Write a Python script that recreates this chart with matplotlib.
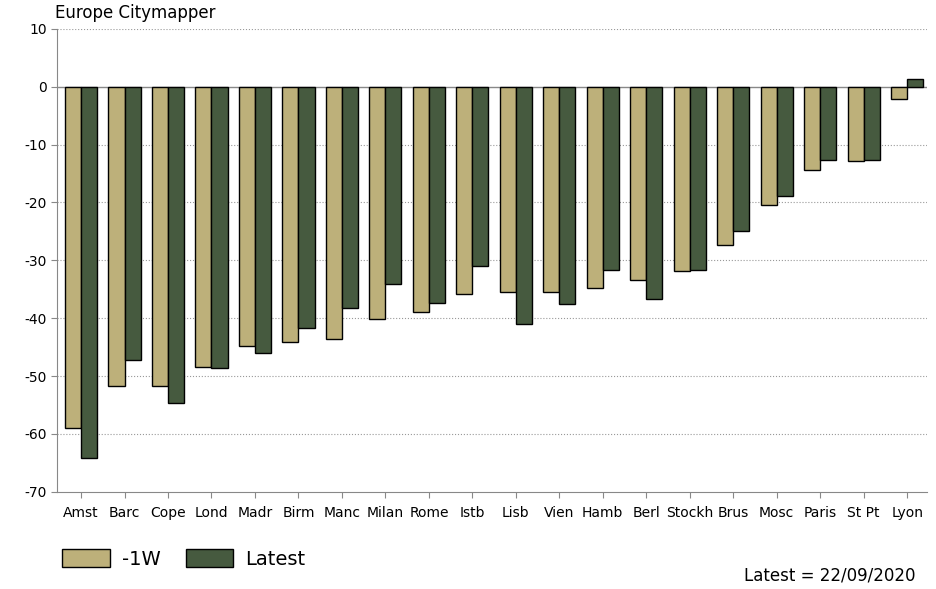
import matplotlib.pyplot as plt
import numpy as np
from matplotlib.patches import Patch

plt.rcParams['axes.unicode_minus'] = False

cities = ['Amst', 'Barc', 'Cope', 'Lond', 'Madr', 'Birm', 'Manc', 'Milan', 'Rome', 'Istb',
          'Lisb', 'Vien', 'Hamb', 'Berl', 'Stockh', 'Brus', 'Mosc', 'Paris', 'St Pt', 'Lyon']
week_ago = [-59.0, -51.7, -51.7, -48.4, -44.8, -44.1, -43.6, -40.1, -38.9, -35.8,
            -35.4, -35.4, -34.7, -33.4, -31.8, -27.4, -20.4, -14.4, -12.8, -2.1]
latest = [-64.1, -47.3, -54.6, -48.6, -46.0, -41.7, -38.3, -34.1, -37.3, -31.0,
          -41.0, -37.6, -31.6, -36.7, -31.6, -25.0, -18.8, -12.6, -12.6, 1.4]

tan = '#BDB07A'
green = '#465A3F'
font = 'DejaVu Sans'

fig = plt.figure(figsize=(9.37, 5.89), dpi=100)
ax = fig.add_axes([0.061, 0.165, 0.928, 0.786])

x = np.arange(len(cities))
w = 0.37
ax.bar(x - w / 2, week_ago, w, color=tan, edgecolor='black', linewidth=1, zorder=3)
ax.bar(x + w / 2, latest, w, color=green, edgecolor='black', linewidth=1, zorder=3)

ax.set_ylim(-70, 10)
ax.set_xlim(-0.55, 19.45)
ax.set_yticks(range(-70, 11, 10))
ax.set_xticks(x)
ax.set_xticklabels(cities)
ax.tick_params(axis='y', labelsize=10, color='#888888', length=4)
ax.tick_params(axis='x', labelsize=10, color='#888888', length=4, pad=6)

for v in range(-60, 11, 10):
    if v != 0:
        ax.axhline(v, color='#999999', linestyle=':', linewidth=0.8, zorder=1)
ax.axhline(0, color='#888888', linewidth=1, zorder=2)

for s in ['top', 'right']:
    ax.spines[s].set_visible(False)
ax.spines['left'].set_color('#888888')
ax.spines['bottom'].set_color('#888888')

fig.text(0.059, 0.963, 'Europe Citymapper', fontsize=12, family=font, va='bottom', ha='left')

handles = [Patch(facecolor=tan, edgecolor='black', label='-1W'),
           Patch(facecolor=green, edgecolor='black', label='Latest')]
fig.legend(handles=handles, loc='lower left', bbox_to_anchor=(0.048, 0.005), ncol=2,
           frameon=False, handlelength=2.45, handleheight=1.05,
           columnspacing=1.3, handletextpad=0.6, prop={'family': font, 'size': 14})

fig.text(0.977, 0.008, 'Latest = 22/09/2020', fontsize=12, family=font, ha='right', va='bottom')

fig.savefig('out.png', dpi=100)
